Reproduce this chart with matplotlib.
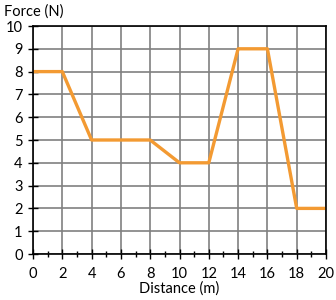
import matplotlib
matplotlib.use("Agg")
import matplotlib.pyplot as plt
from matplotlib.ticker import MultipleLocator

distance = [0, 2, 4, 8, 10, 12, 14, 16, 18, 20]
force = [8, 8, 5, 5, 4, 4, 9, 9, 2, 2]
x_ticks = list(range(0, 21, 2))
y_ticks = list(range(0, 11))

plt.rcParams['font.family'] = ['Lato', 'DejaVu Sans']
fig = plt.figure(figsize=(3.36, 3.0), dpi=100)
ax = fig.add_axes([33/336, 46/300, 293/336, 228/300])
ax.set_xlim(0, 20)
ax.set_ylim(0, 10)
ax.set_xticks(x_ticks)
ax.set_yticks(y_ticks)
ax.xaxis.set_minor_locator(MultipleLocator(1))
ax.grid(True, which='major', color='#808080', linewidth=1.2)
ax.set_axisbelow(True)
ax.plot(distance, force, color='#F39A32', linewidth=2.4, solid_capstyle='butt')
for s in ax.spines.values():
    s.set_color('black')
    s.set_linewidth(1.2)
ax.tick_params(axis='both', which='both', direction='inout', color='black', labelsize=10.5)
ax.tick_params(axis='both', which='major', length=7, width=1)
ax.tick_params(axis='x', which='minor', length=5, width=1)
ax.tick_params(axis='y', pad=4)
ax.tick_params(axis='x', pad=6)
ax.set_xlabel('Distance (m)', fontsize=10.5, labelpad=0)
ax.text(-0.1, 1.03, 'Force (N)', transform=ax.transAxes, fontsize=10.5, ha='left', va='bottom')
fig.savefig('out.png', dpi=100)
